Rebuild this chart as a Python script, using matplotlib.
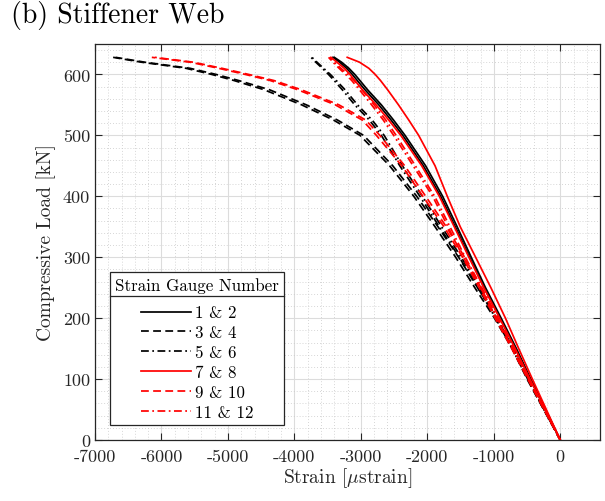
import matplotlib
matplotlib.use("Agg")
import matplotlib.pyplot as plt
from matplotlib.lines import Line2D
from matplotlib.ticker import MultipleLocator, FuncFormatter

plt.rcParams['font.family'] = ['cmr10', 'DejaVu Serif']
plt.rcParams['mathtext.fontset'] = 'cm'
plt.rcParams['axes.unicode_minus'] = False

# compressive load levels [kN], shared by all gauges
load = [0, 50, 100, 150, 200, 250, 300, 350, 400, 450, 500, 525, 550, 575, 590, 600, 610, 620, 628]

# strain readings [microstrain] for each gauge at those load levels
sg1 = [0, -222, -444, -660, -890, -1125, -1340, -1552, -1770, -2026, -2336, -2508, -2692, -2901, -3015, -3092, -3180, -3290, -3400]
sg2 = [0, -225, -452, -672, -905, -1145, -1365, -1580, -1800, -2060, -2370, -2545, -2730, -2940, -3055, -3130, -3215, -3320, -3420]
sg3 = [0, -250, -500, -725, -990, -1286, -1574, -1884, -2204, -2567, -3013, -3411, -3890, -4460, -4910, -5246, -5630, -6300, -6727]
sg4 = [0, -245, -490, -705, -955, -1245, -1530, -1840, -2160, -2520, -2960, -3350, -3820, -4380, -4840, -5180, -5570, -6250, -6690]
sg5 = [0, -245, -490, -725, -975, -1240, -1520, -1820, -2113, -2414, -2692, -2872, -3092, -3281, -3403, -3487, -3580, -3678, -3750]
sg6 = [0, -242, -482, -712, -955, -1215, -1490, -1785, -2075, -2375, -2650, -2830, -3050, -3240, -3370, -3460, -3560, -3660, -3735]
sg7 = [0, -210, -420, -625, -825, -1044, -1274, -1505, -1700, -1884, -2131, -2279, -2434, -2599, -2705, -2785, -2880, -3020, -3205]
sg8 = [0, -228, -456, -678, -912, -1150, -1375, -1595, -1820, -2085, -2400, -2580, -2770, -2980, -3090, -3165, -3250, -3360, -3450]
sg9 = [0, -245, -490, -730, -980, -1220, -1470, -1750, -2068, -2384, -2767, -2978, -3384, -3954, -4365, -4741, -5139, -5568, -6145]
sg10 = [0, -240, -480, -715, -960, -1195, -1440, -1715, -2025, -2340, -2715, -2925, -3330, -3900, -4310, -4690, -5090, -5520, -6100]
sg11 = [0, -238, -476, -710, -950, -1200, -1460, -1690, -1920, -2214, -2507, -2662, -2838, -3023, -3137, -3229, -3328, -3420, -3486]
sg12 = [0, -235, -468, -700, -935, -1180, -1430, -1660, -1890, -2180, -2470, -2625, -2800, -2985, -3100, -3195, -3300, -3400, -3470]

pair_labels = ['1 & 2', '3 & 4', '5 & 6', '7 & 8', '9 & 10', '11 & 12']
pairs = [(sg1, sg2), (sg3, sg4), (sg5, sg6), (sg7, sg8), (sg9, sg10), (sg11, sg12)]
colors = ['k', 'k', 'k', 'r', 'r', 'r']
dashes = [None, (4.5, 2.5), (4.5, 2, 1, 2), None, (4.5, 2.5), (4.5, 2, 1, 2)]

fig = plt.figure(figsize=(6.05, 5.02), dpi=100)
ax = fig.add_axes([0.157, 0.1215, 0.835, 0.789])

handles = []
for (a, b), c, d, lab in zip(pairs, colors, dashes, pair_labels):
    for s in (a, b):
        ln, = ax.plot(s, load, color=c, lw=1.25)
        if d is not None:
            ln.set_dashes(d)
    h = Line2D([], [], color=c, lw=1.25)
    if d is not None:
        h.set_dashes(d)
    handles.append(h)

ax.set_xlim(-7000, 600)
ax.set_ylim(0, 650)
ax.xaxis.set_major_locator(MultipleLocator(1000))
ax.xaxis.set_minor_locator(MultipleLocator(200))
ax.yaxis.set_major_locator(MultipleLocator(100))
ax.yaxis.set_minor_locator(MultipleLocator(20))
plain = FuncFormatter(lambda v, p: '%d' % round(v))
ax.xaxis.set_major_formatter(plain)
ax.yaxis.set_major_formatter(plain)

ax.grid(True, which='major', color='#dcdcdc', lw=0.8)
ax.grid(True, which='minor', color='#c8c8c8', lw=0.6, ls=(0, (1, 2.5)))
ax.set_axisbelow(True)
ax.tick_params(which='both', direction='in', top=True, right=True,
               labelsize=13, colors='#262626', labelcolor='#262626')
ax.tick_params(which='major', length=5, width=0.8)
ax.tick_params(which='minor', length=0)
ax.tick_params(axis='x', pad=6)
for sp in ax.spines.values():
    sp.set_color('#262626')
    sp.set_linewidth(0.9)

ax.set_xlabel(r'Strain [$\mu$strain]', fontsize=14, color='#262626', labelpad=1)
ax.set_ylabel('Compressive Load [kN]', fontsize=14, color='#262626', labelpad=5)
fig.text(0.018, 0.94, '(b) Stiffener Web', fontsize=20, ha='left', va='bottom')

leg = ax.legend(handles, pair_labels, title='Strain Gauge Number',
                loc='lower left', bbox_to_anchor=(0.0297, 0.0379), borderaxespad=0,
                fontsize=12.2, title_fontsize=12.2, handlelength=3.0,
                labelspacing=0.27, handletextpad=0.2, fancybox=False,
                framealpha=1, edgecolor='#262626', borderpad=0.3)
leg.get_frame().set_linewidth(0.9)
leg._legend_box.align = 'center'
leg._legend_box.sep = 9

# horizontal rule under the legend title
fig.canvas.draw()
inv = ax.transAxes.inverted()
fb = leg.get_window_extent()
tb = leg.get_title().get_window_extent()
y_rule = tb.y0 - 3
(x0, yr), (x1, _) = inv.transform([(fb.x0, y_rule), (fb.x1, y_rule)])
ax.add_line(Line2D([x0, x1], [yr, yr], transform=ax.transAxes, color='#262626',
                   lw=0.9, zorder=10))

fig.savefig('out.png', dpi=100)
